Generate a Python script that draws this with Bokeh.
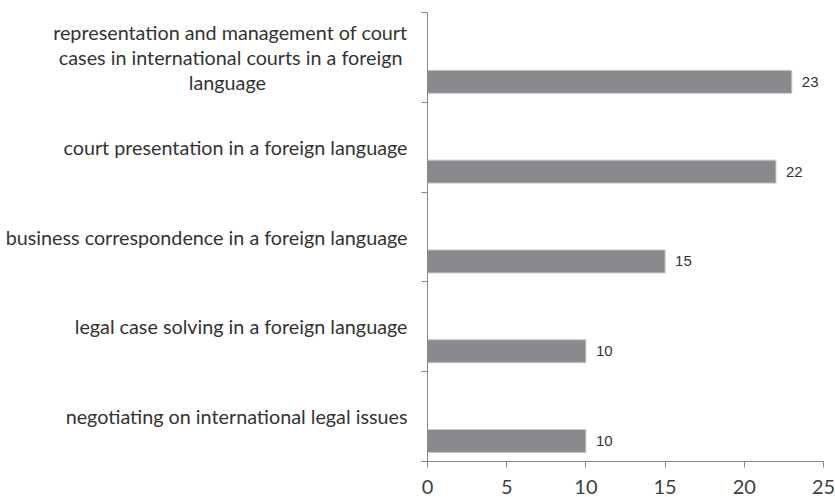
from bokeh.plotting import figure
from bokeh.models import Range1d, FixedTicker, ColumnDataSource, LabelSet
from bokeh.core.properties import value
from bokeh.embed import file_html
from bokeh.resources import INLINE

NB = "\u00a0"
# categories listed top to bottom
categories = [
    "representation and management of court\ncases in international courts in a foreign" + NB
    + "\nlanguage" + NB * 28,
    "court presentation in a foreign language",
    "business correspondence in a foreign language",
    "legal case solving in a foreign language",
    "negotiating on international legal issues",
]
values = [23, 22, 15, 10, 10]
x_ticks = [0, 5, 10, 15, 20, 25]

n = len(categories)
centers = [n - 0.5 - i for i in range(n)]
bar_y = [c - 0.272 for c in centers]

src = ColumnDataSource(dict(y=bar_y, v=values, t=[str(v) for v in values]))

p = figure(width=835, height=497, output_backend="svg", toolbar_location=None,
           x_range=Range1d(0, 25), y_range=Range1d(0, n),
           min_border_left=427, min_border_right=12, min_border_top=12, min_border_bottom=36)
p.outline_line_color = None
p.background_fill_color = "white"
p.grid.visible = False

p.hbar(y="y", right="v", left=0, height=0.256, source=src,
       fill_color="#898a8d", line_color="#c8c8c8", line_width=1)

labels = LabelSet(x="v", y="y", text="t", source=src, x_offset=10, text_baseline="middle",
                  text_font=value("Liberation Sans"), text_font_size="15px", text_color="#333333")
p.add_layout(labels)

# x axis
p.xaxis.ticker = FixedTicker(ticks=x_ticks)
p.xaxis.axis_line_color = "#868686"
p.xaxis.major_tick_line_color = "#868686"
p.xaxis.major_tick_out = 6
p.xaxis.major_tick_in = 0
p.xaxis.minor_tick_line_color = None
p.xaxis.major_label_text_font = "Lato"
p.xaxis.major_label_text_font_size = "20px"
p.xaxis.major_label_text_color = "#404040"
p.xaxis.major_label_standoff = 12

# y axis: labels at band centers, ticks at band boundaries
p.yaxis.ticker = FixedTicker(ticks=centers, minor_ticks=list(range(n + 1)))
p.yaxis.major_label_overrides = {c: lab for c, lab in zip(centers, categories)}
p.yaxis.axis_line_color = "#868686"
p.yaxis.major_tick_line_color = None
p.yaxis.major_tick_out = 0
p.yaxis.major_tick_in = 0
p.yaxis.minor_tick_line_color = "#868686"
p.yaxis.minor_tick_out = 6
p.yaxis.minor_tick_in = 0
p.yaxis.major_label_text_font = "Lato"
p.yaxis.major_label_text_font_size = "19.75px"
p.yaxis.major_label_text_color = "#333333"
p.yaxis.major_label_text_line_height = 1.07
p.yaxis.major_label_standoff = 14

open("out.html", "w").write(file_html(p, INLINE))
